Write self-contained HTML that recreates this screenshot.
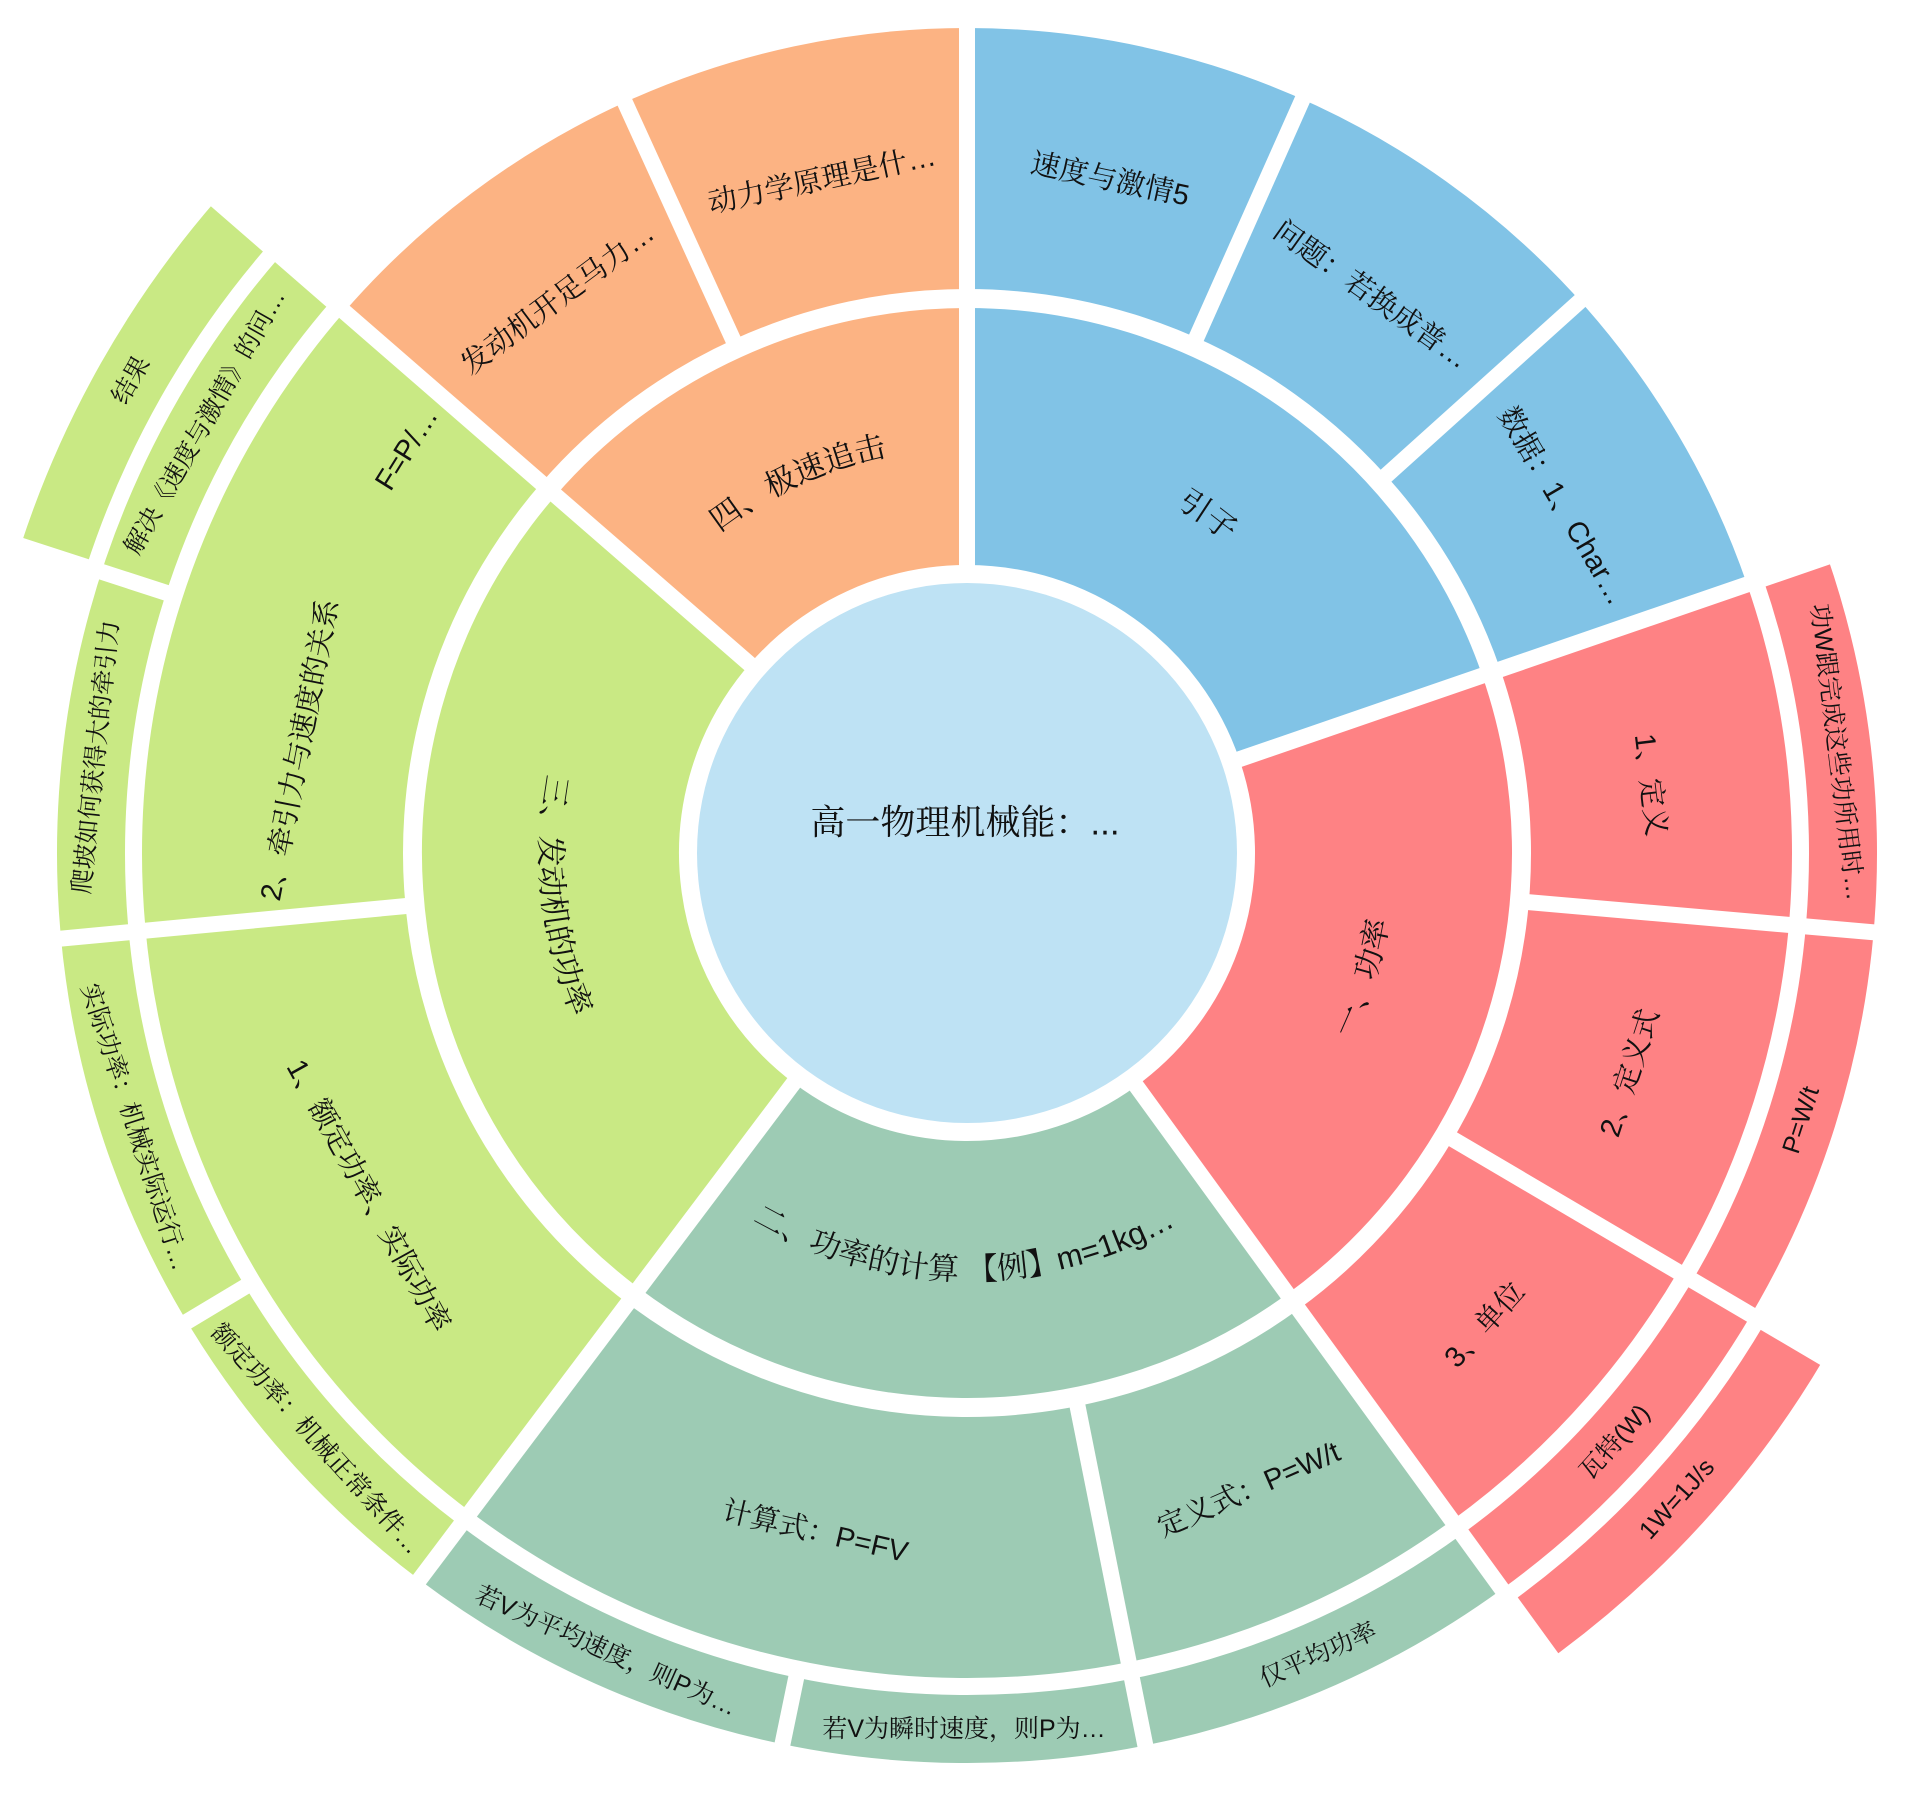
<!DOCTYPE html>
<html><head><meta charset="utf-8">
<style>
html,body{margin:0;padding:0;background:#fff;width:1920px;height:1812px;overflow:hidden;}
svg{display:block;}
text{font-family:"Liberation Sans","Noto Serif CJK SC",serif;fill:#111;}
</style></head>
<body>
<svg width="1920" height="1812" viewBox="0 0 1920 1812" xmlns="http://www.w3.org/2000/svg">
<rect width="1920" height="1812" fill="#fff"/>
<g fill="none">
<circle cx="967" cy="853" r="416.5" stroke="#81c3e6" stroke-width="257" pathLength="360" stroke-dasharray="71 400" transform="rotate(-90 967 853)"/>
<circle cx="967" cy="853" r="416.5" stroke="#fe8284" stroke-width="257" pathLength="360" stroke-dasharray="73 400" transform="rotate(-19 967 853)"/>
<circle cx="967" cy="853" r="416.5" stroke="#9dcbb4" stroke-width="257" pathLength="360" stroke-dasharray="73 400" transform="rotate(54 967 853)"/>
<circle cx="967" cy="853" r="416.5" stroke="#c9e984" stroke-width="257" pathLength="360" stroke-dasharray="94 400" transform="rotate(127 967 853)"/>
<circle cx="967" cy="853" r="416.5" stroke="#fcb383" stroke-width="257" pathLength="360" stroke-dasharray="49 400" transform="rotate(221 967 853)"/>
<circle cx="967" cy="853" r="694.5" stroke="#81c3e6" stroke-width="261" pathLength="360" stroke-dasharray="71 400" transform="rotate(-90 967 853)"/>
<circle cx="967" cy="853" r="694.5" stroke="#fe8284" stroke-width="261" pathLength="360" stroke-dasharray="73 400" transform="rotate(-19 967 853)"/>
<circle cx="967" cy="853" r="694.5" stroke="#9dcbb4" stroke-width="261" pathLength="360" stroke-dasharray="73 400" transform="rotate(54 967 853)"/>
<circle cx="967" cy="853" r="694.5" stroke="#c9e984" stroke-width="261" pathLength="360" stroke-dasharray="94 400" transform="rotate(127 967 853)"/>
<circle cx="967" cy="853" r="694.5" stroke="#fcb383" stroke-width="261" pathLength="360" stroke-dasharray="49 400" transform="rotate(221 967 853)"/>
<circle cx="967" cy="853" r="876" stroke="#fe8284" stroke-width="68" pathLength="360" stroke-dasharray="73 400" transform="rotate(-19 967 853)"/>
<circle cx="967" cy="853" r="876" stroke="#9dcbb4" stroke-width="68" pathLength="360" stroke-dasharray="73 400" transform="rotate(54 967 853)"/>
<circle cx="967" cy="853" r="876" stroke="#c9e984" stroke-width="68" pathLength="360" stroke-dasharray="94 400" transform="rotate(127 967 853)"/>
<circle cx="967" cy="853" r="960.5" stroke="#fe8284" stroke-width="69" pathLength="360" stroke-dasharray="23.5 400" transform="rotate(30.5 967 853)"/>
<circle cx="967" cy="853" r="960.5" stroke="#c9e984" stroke-width="69" pathLength="360" stroke-dasharray="23 400" transform="rotate(198 967 853)"/>
</g>
<g stroke="#fff" stroke-width="16">
<line x1="967" y1="573" x2="967" y2="301" transform="rotate(0 967 853)"/>
<line x1="967" y1="573" x2="967" y2="301" transform="rotate(71 967 853)"/>
<line x1="967" y1="573" x2="967" y2="301" transform="rotate(144 967 853)"/>
<line x1="967" y1="573" x2="967" y2="301" transform="rotate(217 967 853)"/>
<line x1="967" y1="573" x2="967" y2="301" transform="rotate(311 967 853)"/>
<line x1="967" y1="295" x2="967" y2="21" transform="rotate(0 967 853)"/>
<line x1="967" y1="295" x2="967" y2="21" transform="rotate(24 967 853)"/>
<line x1="967" y1="295" x2="967" y2="21" transform="rotate(48 967 853)"/>
<line x1="967" y1="295" x2="967" y2="21" transform="rotate(71 967 853)"/>
<line x1="967" y1="295" x2="967" y2="21" transform="rotate(95 967 853)"/>
<line x1="967" y1="295" x2="967" y2="21" transform="rotate(120.5 967 853)"/>
<line x1="967" y1="295" x2="967" y2="21" transform="rotate(144 967 853)"/>
<line x1="967" y1="295" x2="967" y2="21" transform="rotate(168.7 967 853)"/>
<line x1="967" y1="295" x2="967" y2="21" transform="rotate(217 967 853)"/>
<line x1="967" y1="295" x2="967" y2="21" transform="rotate(264.6 967 853)"/>
<line x1="967" y1="295" x2="967" y2="21" transform="rotate(311 967 853)"/>
<line x1="967" y1="295" x2="967" y2="21" transform="rotate(335.5 967 853)"/>
<line x1="967" y1="17" x2="967" y2="-63" transform="rotate(71 967 853)"/>
<line x1="967" y1="17" x2="967" y2="-63" transform="rotate(95 967 853)"/>
<line x1="967" y1="17" x2="967" y2="-63" transform="rotate(120.5 967 853)"/>
<line x1="967" y1="17" x2="967" y2="-63" transform="rotate(144 967 853)"/>
<line x1="967" y1="17" x2="967" y2="-63" transform="rotate(168.7 967 853)"/>
<line x1="967" y1="17" x2="967" y2="-63" transform="rotate(191.7 967 853)"/>
<line x1="967" y1="17" x2="967" y2="-63" transform="rotate(217 967 853)"/>
<line x1="967" y1="17" x2="967" y2="-63" transform="rotate(239 967 853)"/>
<line x1="967" y1="17" x2="967" y2="-63" transform="rotate(264.6 967 853)"/>
<line x1="967" y1="17" x2="967" y2="-63" transform="rotate(288 967 853)"/>
<line x1="967" y1="17" x2="967" y2="-63" transform="rotate(311 967 853)"/>
<line x1="967" y1="-67" x2="967" y2="-150" transform="rotate(120.5 967 853)"/>
<line x1="967" y1="-67" x2="967" y2="-150" transform="rotate(144 967 853)"/>
<line x1="967" y1="-67" x2="967" y2="-150" transform="rotate(288 967 853)"/>
<line x1="967" y1="-67" x2="967" y2="-150" transform="rotate(311 967 853)"/>
</g>
<circle cx="967" cy="853" r="270" fill="#bee2f4"/>
<text x="965" y="823" font-size="35" text-anchor="middle" dominant-baseline="central">高一物理机械能：...</text>
<defs>
<path id="a1" d="M967,448 A405,405 0 0 1 1349.9,721.1"/>
<path id="a4" d="M661.3,587.3 A405,405 0 0 1 967,448"/>
<path id="a2" d="M1218,1198.4 A427,427 0 0 0 1370.7,714"/>
<path id="a3" d="M710,1194 A427,427 0 0 0 1218,1198.4"/>
<path id="a5" d="M644.7,572.8 A427,427 0 0 0 710,1194"/>
</defs>
<g font-size="31">
<text><textPath href="#a1" startOffset="50%" text-anchor="middle">引子</textPath></text>
<text><textPath href="#a4" startOffset="50%" text-anchor="middle">四、极速追击</textPath></text>
<text><textPath href="#a2" startOffset="50%" text-anchor="middle">一、功率</textPath></text>
<text><textPath href="#a3" startOffset="50%" text-anchor="middle">二、功率的计算 【例】m=1kg…</textPath></text>
<text><textPath href="#a5" startOffset="50%" text-anchor="middle">三、发动机的功率</textPath></text>
</g>
<g font-size="29" text-anchor="middle" dominant-baseline="central">
<text transform="translate(1110,180) rotate(12)">速度与激情5</text>
<text transform="translate(1371,295) rotate(35.5)">问题：若换成普…</text>
<text transform="translate(1562,506) rotate(59.5)">数据：1、Char…</text>
<text transform="translate(1650,785) rotate(83)">1、定义</text>
<text transform="translate(1630,1073) rotate(-72)">2、定义式</text>
<text transform="translate(1485,1325) rotate(-48)">3、单位</text>
<text transform="translate(1249,1490) rotate(-23.6)">定义式：P=W/t</text>
<text transform="translate(815,1532) rotate(13)">计算式：P=FV</text>
<text transform="translate(368,1196) rotate(61)">1、额定功率、实际功率</text>
<text transform="translate(300,750) rotate(-79)">2、牵引力与速度的关系</text>
<text transform="translate(407,449) rotate(-58)">F=P/…</text>
<text transform="translate(558,299) rotate(-36.75)">发动机开足马力…</text>
<text transform="translate(822,180) rotate(-12)">动力学原理是什…</text>
</g>
<g font-size="25" text-anchor="middle" dominant-baseline="central">
<text transform="translate(1837,752) rotate(83)">功W跟完成这些功所用时…</text>
<text transform="translate(1801,1120) rotate(-72)">P=W/t</text>
<text transform="translate(1615,1442) rotate(-48)">瓦特(W)</text>
<text transform="translate(1318,1655) rotate(-24)">仅平均功率</text>
<text transform="translate(964,1729) rotate(0)">若V为瞬时速度，则P为…</text>
<text transform="translate(606,1651) rotate(24)">若V为平均速度，则P为…</text>
<text transform="translate(316,1439) rotate(48)">额定功率：机械正常条件…</text>
<text transform="translate(135,1127) rotate(72)">实际功率：机械实际运行…</text>
<text transform="translate(96,757) rotate(-84)">爬坡如何获得大的牵引力</text>
<text transform="translate(205,422) rotate(-60.5)">解决《速度与激情》的问…</text>
<text transform="translate(1677,1499) rotate(-48)">1W=1J/s</text>
<text transform="translate(131,380) rotate(-60.5)">结果</text>
</g>
</svg>
</body></html>
